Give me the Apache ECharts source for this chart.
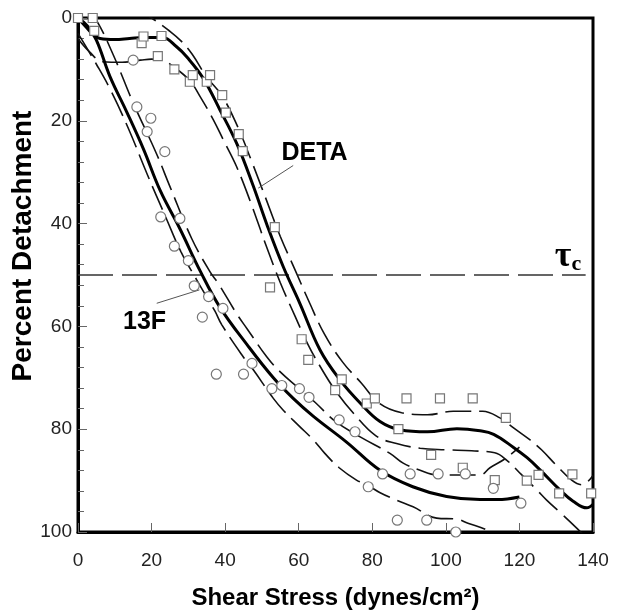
<!DOCTYPE html>
<html>
<head>
<meta charset="utf-8">
<script src="https://cdn.jsdelivr.net/npm/echarts@6/dist/echarts.min.js"></script>
<style>
html, body { margin: 0; padding: 0; background: #fff; }
#main { width: 617px; height: 611px; }
</style>
</head>
<body>
<div id="main"></div>
<script>
var xTicks = [0, 20, 40, 60, 80, 100, 120, 140];
var yTicks = [0, 20, 40, 60, 80, 100];
var tauLine = [[0, 50], [138, 50]];

// measured points (shear stress, percent detachment)
var detaPoints = [[0,0],[4,0],[4.4,2.5],[17.3,4.9],[17.8,3.6],[21.7,7.4],[22.7,3.5],[26.2,10],[30.4,12.4],[31.2,11.1],[35,12.4],[35.9,11.1],[39.2,15],[40.2,18.4],[43.7,22.6],[44.8,25.9],[53.5,40.7],[52.2,52.4],[60.8,62.5],[62.6,66.5],[69.9,72.4],[71.7,70.3],[78.5,75],[80.7,74],[87.1,80],[89.3,74],[96,85],[98.4,74],[104.6,87.5],[107.3,74],[113.3,89.9],[116.3,77.8],[122,90],[125.2,88.9],[130.8,92.5],[134.4,88.8],[139.5,92.5]];
var f13Points = [[15,8.2],[16,17.3],[18.8,22.1],[19.8,19.5],[22.5,38.7],[23.6,26],[26.2,44.4],[27.7,39],[30,47.2],[31.6,52.1],[33.8,58.2],[35.5,54.2],[37.6,69.3],[39.4,56.5],[45,69.3],[47.3,67.2],[52.7,72.1],[55.4,71.5],[60.2,72.1],[62.8,73.8],[71,78.2],[75.3,80.5],[78.9,91.2],[82.8,88.7],[86.8,97.7],[90.3,88.7],[94.8,97.7],[97.9,88.7],[102.7,100],[105.3,88.7],[112.9,91.5],[120.4,94.4]];

// fitted curves and their dashed bands
var detaFit = [[0,0],[2,1.6],[4.2,3.3],[6,4],[10,4.2],[14,4],[17.8,3.8],[23,3.8],[26.8,5.6],[29.6,7.6],[34,11.7],[38.6,17.9],[43.2,24.5],[47.6,32.6],[51.5,40.5],[55.8,48.4],[60.3,55.5],[65.8,64.6],[71.2,70.4],[76.7,74.9],[82.1,78.5],[87.5,80.1],[95,80.5],[103,79.9],[109.3,80.3],[113,81],[118.3,83.5],[122,85.5],[125.6,87.9],[131,91.8],[134.6,94],[138.3,95.3],[140,94.6]];
var detaUpper = [[15,-2],[20,0],[25,2.6],[28.2,4.6],[31,7],[35,11.5],[39,15],[43,20.5],[47,27.5],[51,35],[55,42.5],[59,49],[63,55.5],[67,61.5],[72,67],[77,71],[82,75],[88,76.8],[95,77.2],[102,76.5],[110,76.5],[114.7,77.8],[118.5,79.8],[122.9,82.1],[126,84],[130,87],[134.2,89.9],[137,90.8],[140,89]];
var detaLower = [[0,4],[3,6.5],[6.8,8.5],[12,8.6],[17,8.2],[20,8],[23,8.2],[26,9.5],[30.4,12.2],[33.2,15.3],[36.8,19.8],[39.5,23.7],[43.1,28.9],[47,36],[51,44],[55,51.5],[59,58],[62.5,63.5],[66,68],[70,72.5],[75,77],[81,81.3],[86.6,82.8],[93,83.7],[100,84],[107,84.2],[113.3,84.6],[116.5,86],[120.5,88.8],[124.7,91.8],[127.4,93.8],[131.5,96.5],[135.5,99.2],[138,101]];
var f13Fit = [[0,0],[2.5,1.5],[5,4.3],[8.7,11.4],[13.2,18.2],[17.8,25.5],[22.3,33.5],[27.7,41],[33.2,49.2],[38.6,56.3],[45.9,63.5],[53.1,70],[58.5,74],[64,77.5],[73,82.5],[82.1,88],[91,91.2],[100.2,93.1],[109.3,93.7],[114,93.7],[120,93.2]];
var f13Upper = [[3,-1],[5,0.4],[9.6,7.2],[15,16.5],[21.4,26.5],[25,32.8],[30.9,42.9],[35.9,49.4],[38.1,51.6],[43.1,57.5],[46,60.5],[51.3,65.9],[54.9,68.8],[60,72],[64.5,74.8],[70,78.5],[76.7,81.5],[84.8,84.7],[88.4,86.6],[93,88],[97.5,88.9],[103,88.9],[109.3,88.9],[112,87.5],[116,85.8],[120,83.5]];
var f13Lower = [[0,3],[5,9],[8.7,13.8],[13.7,21.5],[18.7,30.2],[24,39],[28,45.5],[32.3,51],[37.2,57],[39.1,59.7],[44.9,65.9],[47.7,68.5],[53.1,74],[55.8,76.3],[60,79.3],[64,82.1],[67.1,84.7],[71,87.5],[75.7,89.9],[78.5,90.8],[82,92.3],[86.6,93.8],[91.1,95.1],[97.5,97.3],[102.9,97.5],[106,98.3],[111.1,99.6],[114,101]];

// annotations
var notes = [{ name: 'DETA', value: [64.3, 26.3] }, { name: '13F', value: [18.1, 59.1] }];
var detaLeader = [[49, 33.1], [58.5, 28.7]];
var f13Leader = [[21.4, 55.5], [33, 52.9]];
var tauLabel = [[133.2, 46.5]];

var chart = echarts.init(document.getElementById('main'));

function fitLine(data) {
  return { type: 'line', data: data, smooth: 0.4, symbol: 'none', silent: true, z: 3,
    lineStyle: { color: '#000', width: 3 } };
}
function band(data) {
  return { type: 'line', data: data, smooth: 0.4, symbol: 'none', silent: true, z: 2,
    lineStyle: { color: '#111', width: 1.6, type: [26, 8] } };
}
function leader(data) {
  return { type: 'line', data: data, symbol: 'none', silent: true, z: 2,
    lineStyle: { color: '#555', width: 1 } };
}

var option = {
  animation: false,
  backgroundColor: '#fff',
  grid: { left: 78, right: 24, top: 18, bottom: 79, outerBoundsMode: 'none', containLabel: false,
    show: true, borderColor: '#000', borderWidth: 3 },
  xAxis: {
    type: 'value', position: 'bottom', min: xTicks[0], max: xTicks[xTicks.length - 1], interval: 20,
    name: 'Shear Stress (dynes/cm\u00b2)', nameLocation: 'middle', nameGap: 54,
    nameTextStyle: { fontFamily: 'Liberation Sans', fontWeight: 'bold', fontSize: 24, color: '#000' },
    axisLine: { onZero: false, lineStyle: { color: '#000', width: 3 } },
    axisTick: { inside: true, length: 9, lineStyle: { color: '#666', width: 1 } },
    minorTick: { show: false },
    axisLabel: { margin: 19, fontFamily: 'Liberation Sans', fontSize: 19, color: '#222' },
    splitLine: { show: false }
  },
  yAxis: {
    type: 'value', inverse: true, min: yTicks[0], max: yTicks[yTicks.length - 1], interval: 20,
    axisLine: { onZero: false, lineStyle: { color: '#000', width: 3 } },
    axisTick: { inside: true, length: 9, lineStyle: { color: '#666', width: 1 } },
    minorTick: { show: true, splitNumber: 5, length: 6, lineStyle: { color: '#666', width: 1 } },
    axisLabel: { margin: 6, fontFamily: 'Liberation Sans', fontSize: 19, color: '#222' },
    splitLine: { show: false }
  },
  graphic: [{
    type: 'text', x: 23, y: 246, rotation: Math.PI / 2,
    style: { text: 'Percent Detachment', font: 'bold 28px "Liberation Sans"', fill: '#000',
      align: 'center', verticalAlign: 'middle' }
  }],
  series: [
    { type: 'line', data: tauLine, symbol: 'none', silent: true, z: 1,
      lineStyle: { color: '#333', width: 1.6, type: [35, 9] } },
    band(detaUpper), band(detaLower), band(f13Upper), band(f13Lower),
    fitLine(detaFit), fitLine(f13Fit),
    leader(detaLeader), leader(f13Leader),
    { type: 'scatter', data: detaPoints, symbol: 'rect', symbolSize: 9, z: 5, silent: true,
      itemStyle: { color: '#fff', borderColor: '#777', borderWidth: 1.2, opacity: 1 } },
    { type: 'scatter', data: f13Points, symbol: 'circle', symbolSize: 10, z: 5, silent: true,
      itemStyle: { color: '#fff', borderColor: '#777', borderWidth: 1.2, opacity: 1 } },
    { type: 'scatter', data: notes, symbolSize: 1, z: 6, silent: true,
      itemStyle: { color: 'transparent', opacity: 1 },
      label: { show: true, position: 'inside', formatter: '{b}', fontFamily: 'Liberation Sans',
        fontWeight: 'bold', fontSize: 25, color: '#000' } },
    { type: 'scatter', data: tauLabel, symbolSize: 1, z: 6, silent: true,
      itemStyle: { color: 'transparent', opacity: 1 },
      label: { show: true, position: 'inside', formatter: '{t|\u03c4}{c|c}',
        rich: {
          t: { fontFamily: 'Liberation Serif', fontWeight: 'bold', fontSize: 36, color: '#000', lineHeight: 36 },
          c: { fontFamily: 'Liberation Serif', fontWeight: 'bold', fontSize: 22, color: '#000', lineHeight: 36, padding: [14, 0, 0, 0] }
        } } }
  ]
};
chart.setOption(option);
</script>
</body>
</html>
